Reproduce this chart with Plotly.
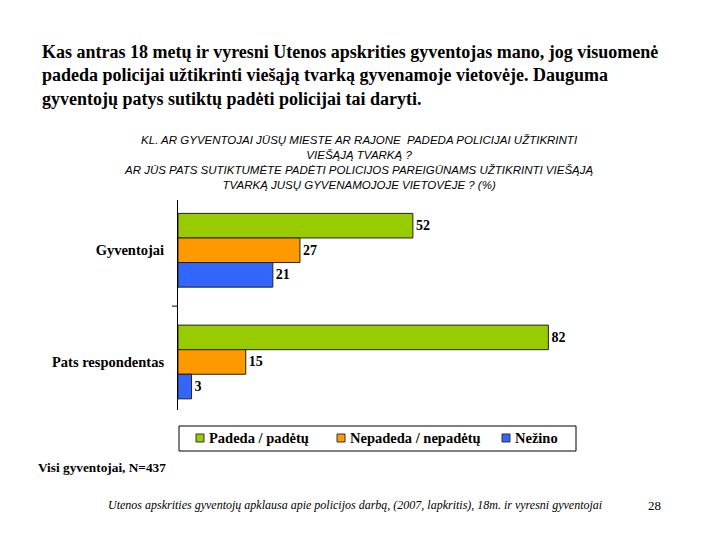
import plotly.graph_objects as go

categories = ["Gyventojai", "Pats respondentas"]
series_names = ["Padeda / padėtų", "Nepadeda / nepadėtų", "Nežino"]
padeda = [52, 82]
nepadeda = [27, 15]
nezino = [21, 3]
colors = ["#99cc00", "#ff9900", "#3366ff"]

W, H = 720, 540
OFF = 8  # browser body margin
L, R, T, B = 178 - OFF, 580 - OFF, 200 - OFF, 410 - OFF

def px(x):
    return (x - OFF - L) / (R - L)

def py(y):
    return (B - (y - OFF)) / (B - T)

fig = go.Figure()
for name, vals, col in zip(series_names, [padeda, nepadeda, nezino], colors):
    fig.add_trace(go.Bar(
        y=categories, x=vals, name=name, orientation="h",
        marker=dict(color=col, line=dict(color="#222222", width=1)),
        text=[str(v) for v in vals], textposition="outside", cliponaxis=False,
        textfont=dict(family="Liberation Serif", size=14, color="black", weight="bold"),
        showlegend=False,
    ))

fig.update_layout(
    width=W, height=H, barmode="group", bargap=0.34, bargroupgap=0,
    paper_bgcolor="white", plot_bgcolor="white",
    margin=dict(l=L, r=W - R, t=T, b=H - B, pad=0),
    xaxis=dict(range=[0, 89], showgrid=False, zeroline=False, showticklabels=False,
               showline=False, ticks=""),
    yaxis=dict(range=[1.43, -0.45], showgrid=False, zeroline=False, showline=True,
               linecolor="black", linewidth=1, ticks="", ticklabelstandoff=10,
               tickfont=dict(family="Liberation Serif", size=14.5, color="black", weight="bold")),
)

# middle tick mark on y axis
fig.add_shape(type="line", xref="paper", yref="y", x0=px(172), x1=px(178), y0=0.5, y1=0.5,
              line=dict(color="black", width=1))

# manual legend box
fig.add_shape(type="rect", xref="paper", yref="paper", x0=px(179), x1=px(576),
              y0=py(426), y1=py(451), line=dict(color="black", width=1), fillcolor="white")
legend_sym_x = [196, 337, 502]
for name, col, sx in zip(series_names, colors, legend_sym_x):
    fig.add_shape(type="rect", xref="paper", yref="paper", x0=px(sx), x1=px(sx + 8),
                  y0=py(434), y1=py(442), line=dict(color="#333333", width=1), fillcolor=col)
    fig.add_annotation(text=name, xref="paper", yref="paper", x=px(sx + 11), y=py(438),
                       xanchor="left", yanchor="middle", showarrow=False,
                       font=dict(family="Liberation Serif", size=14.5, color="black", weight="bold"))

main_title = ("Kas antras 18 metų ir vyresni Utenos apskrities gyventojas mano, jog visuomenė<br>"
              "padeda policijai užtikrinti viešąją tvarką gyvenamoje vietovėje. Dauguma<br>"
              "gyventojų patys sutiktų padėti policijai tai daryti.")
fig.add_annotation(text=main_title, xref="paper", yref="paper", x=px(40), y=py(40),
                   xanchor="left", yanchor="top", align="left", showarrow=False,
                   font=dict(family="Liberation Serif", size=18, color="black", weight="bold"))

chart_title = ("KL. AR GYVENTOJAI JŪSŲ MIESTE AR RAJONE  PADEDA POLICIJAI UŽTIKRINTI<br>"
               "VIEŠĄJĄ TVARKĄ ?<br>"
               "AR JŪS PATS SUTIKTUMĖTE PADĖTI POLICIJOS PAREIGŪNAMS UŽTIKRINTI VIEŠĄJĄ<br>"
               "TVARKĄ JUSŲ GYVENAMOJOJE VIETOVĖJE ? (%)")
fig.add_annotation(text=chart_title, xref="paper", yref="paper", x=px(358), y=py(132),
                   xanchor="center", yanchor="top", align="center", showarrow=False,
                   font=dict(family="Liberation Sans", size=11.5, color="black", style="italic"))

fig.add_annotation(text="Visi gyventojai, N=437", xref="paper", yref="paper", x=px(36), y=py(467),
                   xanchor="left", yanchor="middle", showarrow=False,
                   font=dict(family="Liberation Serif", size=13.3, color="black", weight="bold"))

fig.add_annotation(text="Utenos apskrities gyventojų apklausa apie policijos darbą, (2007, lapkritis), 18m. ir vyresni gyventojai",
                   xref="paper", yref="paper", x=px(355), y=py(505),
                   xanchor="center", yanchor="middle", showarrow=False,
                   font=dict(family="Liberation Serif", size=12, color="black", style="italic"))

fig.add_annotation(text="28", xref="paper", yref="paper", x=px(654), y=py(505),
                   xanchor="center", yanchor="middle", showarrow=False,
                   font=dict(family="Liberation Serif", size=13, color="black"))

fig.write_html("out.html")
